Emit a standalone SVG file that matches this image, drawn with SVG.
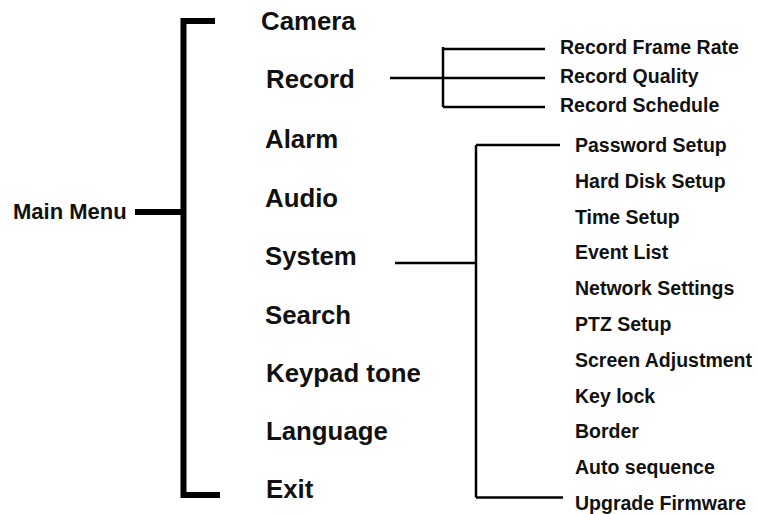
<svg xmlns="http://www.w3.org/2000/svg" width="758" height="514" viewBox="0 0 758 514">
<style>
text{font-family:"Liberation Sans",Arial,sans-serif;font-weight:bold;fill:#111}
.main{font-size:25.8px}
.root{font-size:22px}
.sub{font-size:19.5px}
.thick{stroke:#000;stroke-width:6;fill:none}
.thin{stroke:#000;stroke-width:2.5;fill:none}
</style>
<rect width="758" height="514" fill="#fff"/>
<g id="connectors">
<path class="thick" d="M135,212 H183.5 M215,21 H183.5 V495 H220"/>
<path class="thin" d="M390,78 H545 M443,47 V107 M443,49 H545 M443,107 H545"/>
<path class="thin" d="M395,263 H476 M476,145 V497.5 M476,145 H560 M476,497.5 H563"/>
</g>
<g id="main-menu"><text class="root" x="13" y="219">Main Menu</text></g>
<g id="camera"><text class="main" x="261" y="30">Camera</text></g>
<g id="record"><text class="main" x="266" y="88">Record</text></g>
<g id="alarm"><text class="main" x="265" y="148">Alarm</text></g>
<g id="audio"><text class="main" x="265" y="207">Audio</text></g>
<g id="system"><text class="main" x="265" y="265">System</text></g>
<g id="search"><text class="main" x="265" y="324">Search</text></g>
<g id="keypad-tone"><text class="main" x="266" y="382">Keypad tone</text></g>
<g id="language"><text class="main" x="266" y="440">Language</text></g>
<g id="exit"><text class="main" x="266" y="498">Exit</text></g>
<g id="record-frame-rate"><text class="sub" x="560" y="54">Record Frame Rate</text></g>
<g id="record-quality"><text class="sub" x="560" y="83">Record Quality</text></g>
<g id="record-schedule"><text class="sub" x="560" y="112">Record Schedule</text></g>
<g id="password-setup"><text class="sub" x="575" y="152">Password Setup</text></g>
<g id="hard-disk-setup"><text class="sub" x="575" y="187.8">Hard Disk Setup</text></g>
<g id="time-setup"><text class="sub" x="575" y="223.6">Time Setup</text></g>
<g id="event-list"><text class="sub" x="575" y="259.4">Event List</text></g>
<g id="network-settings"><text class="sub" x="575" y="295.2">Network Settings</text></g>
<g id="ptz-setup"><text class="sub" x="575" y="331">PTZ Setup</text></g>
<g id="screen-adjustment"><text class="sub" x="575" y="366.8">Screen Adjustment</text></g>
<g id="key-lock"><text class="sub" x="575" y="402.6">Key lock</text></g>
<g id="border"><text class="sub" x="575" y="438.4">Border</text></g>
<g id="auto-sequence"><text class="sub" x="575" y="474.2">Auto sequence</text></g>
<g id="upgrade-firmware"><text class="sub" x="575" y="510">Upgrade Firmware</text></g>
</svg>
